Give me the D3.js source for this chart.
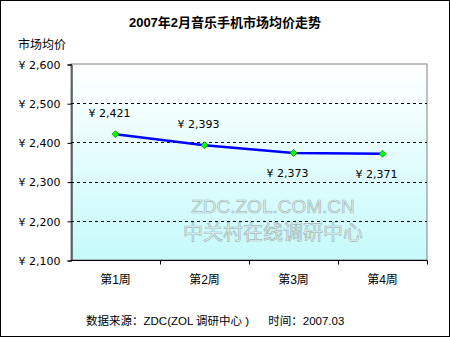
<!DOCTYPE html>
<html><head><meta charset="utf-8">
<script src="https://cdn.jsdelivr.net/npm/d3@7"></script>
<style>
html,body{margin:0;padding:0;background:#fff;}
svg{display:block;font-family:"Liberation Sans","Noto Sans CJK SC",sans-serif;}
</style></head><body>
<svg id="c" width="450" height="337"></svg>
<script>
const categories = ["第1周","第2周","第3周","第4周"];
const values = [2421, 2393, 2373, 2371];
const labelPos = ["above","above","below","below"];
const yTicks = [2100, 2200, 2300, 2400, 2500, 2600];
const title = "2007年2月音乐手机市场均价走势";
const yTitle = "市场均价";
const footer = "数据来源：ZDC(ZOL 调研中心 )      时间：2007.03";
const watermark = ["ZDC.ZOL.COM.CN", "中关村在线调研中心"];

const svg = d3.select("#c");
const W = 450, H = 337;
const m = {l:71, r:427, t:64, b:260};

const defs = svg.append("defs");
const g = defs.append("linearGradient").attr("id","bg").attr("x1",0).attr("y1",0).attr("x2",0).attr("y2",1);
g.append("stop").attr("offset","0%").attr("stop-color","#ffffff");
g.append("stop").attr("offset","100%").attr("stop-color","#c6fafb");

svg.append("rect").attr("x",0.5).attr("y",0.5).attr("width",W-1).attr("height",H-1)
  .attr("fill","#fff").attr("stroke","#000");

const x = d3.scaleBand().domain(categories).range([m.l, m.r]).padding(0);
const y = d3.scaleLinear().domain([2100, 2600]).range([m.b, m.t]);

svg.append("rect").attr("x",m.l).attr("y",m.t).attr("width",m.r-m.l).attr("height",m.b-m.t)
  .attr("fill","url(#bg)").attr("stroke","#808080");

// watermark (embossed look via thin gray stroke)
const wm = svg.append("g").attr("text-anchor","middle").attr("fill","#e4f8f8")
  .attr("stroke","#a3b8b8").attr("stroke-width",0.7);
wm.append("text").attr("x",273).attr("y",213).attr("font-size",19)
  .attr("font-family","'Liberation Sans',sans-serif").text(watermark[0]);
wm.append("text").attr("x",273).attr("y",240).attr("font-size",20)
  .attr("font-family","'Noto Sans CJK SC',sans-serif").text(watermark[1]);

// gridlines
svg.append("g").selectAll("line").data(yTicks.filter(d=>d>2100 && d<2600)).join("line")
  .attr("x1",m.l).attr("x2",m.r).attr("y1",d=>y(d)+0.5).attr("y2",d=>y(d)+0.5)
  .attr("stroke","#000").attr("stroke-dasharray","3,3").attr("shape-rendering","crispEdges");

// y axis
const yAxis = d3.axisLeft(y).tickValues(yTicks).tickSize(4).tickPadding(7)
  .tickFormat(d=>"¥ "+d3.format(",")(d));
const ya = svg.append("g").attr("transform",`translate(${m.l+0.5},0.5)`).call(yAxis);
ya.select(".domain").attr("stroke","#000");
ya.selectAll("line").attr("stroke","#000");
ya.selectAll("text").attr("font-size",11).attr("fill","#000")
  .attr("font-family","'DejaVu Sans','Noto Sans CJK SC',sans-serif").attr("dy","0.35em").attr("y",0);

// x axis
const xa = svg.append("g").attr("transform",`translate(0,${m.b+0.5})`);
xa.append("line").attr("x1",m.l).attr("x2",m.r+0.5).attr("stroke","#000");
xa.selectAll("line.t").data(categories.slice(1).concat(["end"])).join("line").attr("class","t")
  .attr("x1",(d,i)=>x(categories[0])+ (i+1)*x.bandwidth()+0.5)
  .attr("x2",(d,i)=>x(categories[0])+ (i+1)*x.bandwidth()+0.5)
  .attr("y1",0).attr("y2",4).attr("stroke","#000");
xa.selectAll("text").data(categories).join("text")
  .attr("x",d=>x(d)+x.bandwidth()/2).attr("y",23).attr("text-anchor","middle")
  .attr("font-size",12).attr("fill","#000").text(d=>d);

// line
const pts = categories.map((c,i)=>({c, v:values[i], p:labelPos[i]}));
const line = d3.line().x(d=>x(d.c)+x.bandwidth()/2).y(d=>y(d.v));
svg.append("path").datum(pts).attr("d",line).attr("fill","none")
  .attr("stroke","#0000ff").attr("stroke-width",2.5);

svg.append("g").selectAll("path").data(pts).join("path")
  .attr("transform",d=>`translate(${x(d.c)+x.bandwidth()/2},${y(d.v)})`)
  .attr("d","M0,-3.5L3.5,0L0,3.5L-3.5,0Z").attr("fill","#00ff00").attr("stroke","#008000").attr("stroke-width",0.7);

svg.append("g").selectAll("text").data(pts).join("text")
  .attr("x",d=>x(d.c)+x.bandwidth()/2 - 6)
  .attr("y",d=>y(d.v) + (d.p==="above" ? -17 : 24))
  .attr("text-anchor","middle").attr("font-size",11).attr("fill","#000")
  .attr("font-family","'DejaVu Sans','Noto Sans CJK SC',sans-serif")
  .text(d=>"¥ "+d3.format(",")(d.v));

// titles
svg.append("text").attr("x",225).attr("y",27).attr("text-anchor","middle")
  .attr("font-size",13).attr("font-weight","bold").attr("fill","#000").text(title);
svg.append("text").attr("x",18).attr("y",49).attr("font-size",12).attr("fill","#000").text(yTitle);
svg.append("text").attr("x",86).attr("y",325).attr("font-size",11.5).attr("fill","#000")
  .attr("xml:space","preserve").style("white-space","pre").text(footer);
</script>
</body></html>
